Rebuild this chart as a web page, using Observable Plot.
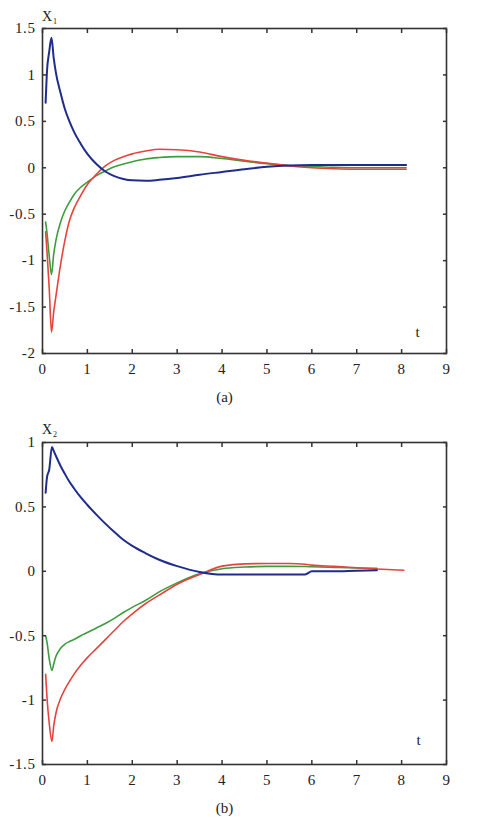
<!DOCTYPE html>
<html>
<head>
<meta charset="utf-8">
<script src="https://cdn.jsdelivr.net/npm/d3@7"></script>
<script src="https://cdn.jsdelivr.net/npm/@observablehq/plot@0.6"></script>
<style>
  body { margin: 0; background: #fff; }
  #chart { width: 480px; height: 818px; }
  #chart svg { display: block; }
  #chart svg g[aria-label$="tick label"] text { letter-spacing: 0.6px; }
</style>
</head>
<body>
<div id="chart"></div>
<script>
// ---- data ----
const xTicks = [0, 1, 2, 3, 4, 5, 6, 7, 8, 9];
const yTicksA = [-2, -1.5, -1, -0.5, 0, 0.5, 1, 1.5];
const yTicksB = [-1.5, -1, -0.5, 0, 0.5, 1];

// panel (a): X1
const tA     = [0.07, 0.1, 0.15, 0.2, 0.25, 0.3, 0.4, 0.5, 0.6, 0.7, 0.85, 1.0, 1.2, 1.4, 1.6, 1.8, 2.0, 2.3, 2.6, 3.0, 3.5, 4.0, 4.5, 5.0, 5.5, 6.0, 6.5, 7.0, 7.5, 8.1];
const blueA  = [0.70, 1.04, 1.25, 1.40, 1.18, 1.02, 0.81, 0.63, 0.50, 0.39, 0.26, 0.15, 0.04, -0.04, -0.09, -0.12, -0.135, -0.14, -0.13, -0.11, -0.075, -0.045, -0.015, 0.01, 0.025, 0.03, 0.03, 0.03, 0.03, 0.03];
const redA   = [-0.69, -0.90, -1.30, -1.77, -1.55, -1.38, -1.05, -0.78, -0.57, -0.44, -0.30, -0.18, -0.07, 0.02, 0.08, 0.12, 0.15, 0.18, 0.20, 0.195, 0.17, 0.12, 0.08, 0.05, 0.02, 0.0, -0.01, -0.015, -0.015, -0.015];
const greenA = [-0.585, -0.70, -0.95, -1.15, -0.93, -0.78, -0.59, -0.46, -0.37, -0.29, -0.21, -0.155, -0.085, -0.035, 0.01, 0.04, 0.065, 0.095, 0.11, 0.12, 0.12, 0.10, 0.07, 0.045, 0.025, 0.015, 0.005, 0.0, 0.0, 0.0];

// panel (b): X2
const tB     = [0.07, 0.1, 0.15, 0.21, 0.25, 0.3, 0.4, 0.5, 0.6, 0.7, 0.85, 1.0, 1.2, 1.4, 1.6, 1.8, 2.0, 2.3, 2.6, 3.0, 3.5, 4.0, 4.5, 5.0, 5.5, 5.85, 6.0, 6.5, 7.0, 7.45, 8.05];
const blueB  = [0.61, 0.73, 0.79, 0.965, 0.935, 0.895, 0.82, 0.755, 0.695, 0.645, 0.575, 0.515, 0.44, 0.37, 0.305, 0.245, 0.197, 0.14, 0.09, 0.04, -0.005, -0.025, -0.025, -0.025, -0.025, -0.025, 0.0, 0.0, 0.005, 0.008, null];
const redB   = [-0.80, -0.98, -1.18, -1.32, -1.20, -1.10, -0.99, -0.915, -0.855, -0.80, -0.73, -0.67, -0.60, -0.53, -0.46, -0.39, -0.33, -0.25, -0.185, -0.10, -0.025, 0.04, 0.058, 0.06, 0.06, 0.055, 0.048, 0.038, 0.028, 0.018, 0.008];
const greenB = [-0.50, -0.55, -0.68, -0.77, -0.72, -0.66, -0.60, -0.565, -0.545, -0.53, -0.50, -0.475, -0.44, -0.405, -0.365, -0.32, -0.28, -0.225, -0.16, -0.09, -0.02, 0.02, 0.033, 0.038, 0.038, 0.037, 0.035, 0.03, 0.026, 0.023, null];

const seriesColors = { blue: "#1e2c8c", red: "#e5443d", green: "#3c9d3f" };
const seriesWidths = { blue: 2, red: 1.6, green: 1.6 };

const FONT = "Liberation Serif, Times New Roman, serif";

function panel({ t, series, yDomain, yTicks, sub, caption, height, marginTop, marginBottom, xDy, tDx, tDy }) {
  const lines = series.map(([name, vals]) => {
    const rows = [];
    vals.forEach((v, i) => { if (v != null) rows.push({ t: t[i], v }); });
    return Plot.line(rows, { x: "t", y: "v", stroke: seriesColors[name], strokeWidth: seriesWidths[name], curve: "monotone-x" });
  });
  const axisCommon = { tickSize: -4, strokeWidth: 1.5, stroke: "#333", fontSize: 15, fontFamily: FONT, label: null };
  const txt = { fontFamily: FONT, fill: "#222", textAnchor: "middle", lineAnchor: "middle" };
  return Plot.plot({
    width: 480,
    height,
    marginTop,
    marginBottom,
    marginLeft: 42,
    marginRight: 34,
    style: { fontFamily: FONT, fontSize: "14px", color: "#222", background: "#fff" },
    x: { domain: [0, 9] },
    y: { domain: yDomain },
    marks: [
      ...lines,
      Plot.frame({ stroke: "#333", strokeWidth: 1.6 }),
      Plot.axisX(xTicks, { ...axisCommon, anchor: "bottom", tickPadding: 14, tickFormat: d => String(d) }),
      Plot.axisX(xTicks, { ...axisCommon, anchor: "top", tickFormat: () => "" }),
      Plot.axisY(yTicks, { ...axisCommon, anchor: "left", tickPadding: 11, tickFormat: d => String(d) }),
      Plot.axisY(yTicks, { ...axisCommon, anchor: "right", tickFormat: () => "" }),
      Plot.text(["X"], { ...txt, text: d => d, frameAnchor: "top-left", dx: 4.5, dy: xDy, fontSize: 14 }),
      Plot.text([sub], { ...txt, text: d => d, frameAnchor: "top-left", dx: 12.5, dy: xDy + 5, fontSize: 8 }),
      Plot.text(["t"], { ...txt, text: d => d, frameAnchor: "bottom-right", dx: tDx, dy: tDy, fontSize: 15 }),
      Plot.text([caption], { ...txt, text: d => d, frameAnchor: "bottom", dx: -20, dy: 44, fontSize: 15 })
    ]
  });
}

const chart = document.getElementById("chart");
chart.appendChild(panel({
  t: tA,
  series: [["green", greenA], ["red", redA], ["blue", blueA]],
  yDomain: [-2, 1.5], yTicks: yTicksA, sub: "1", caption: "(a)",
  height: 412, marginTop: 28, marginBottom: 59,
  xDy: -12, tDx: -29, tDy: -21
}));
chart.appendChild(panel({
  t: tB,
  series: [["green", greenB], ["red", redB], ["blue", blueB]],
  yDomain: [-1.5, 1], yTicks: yTicksB, sub: "2", caption: "(b)",
  height: 406, marginTop: 30, marginBottom: 54,
  xDy: -13, tDx: -28, tDy: -24
}));
</script>
</body>
</html>
